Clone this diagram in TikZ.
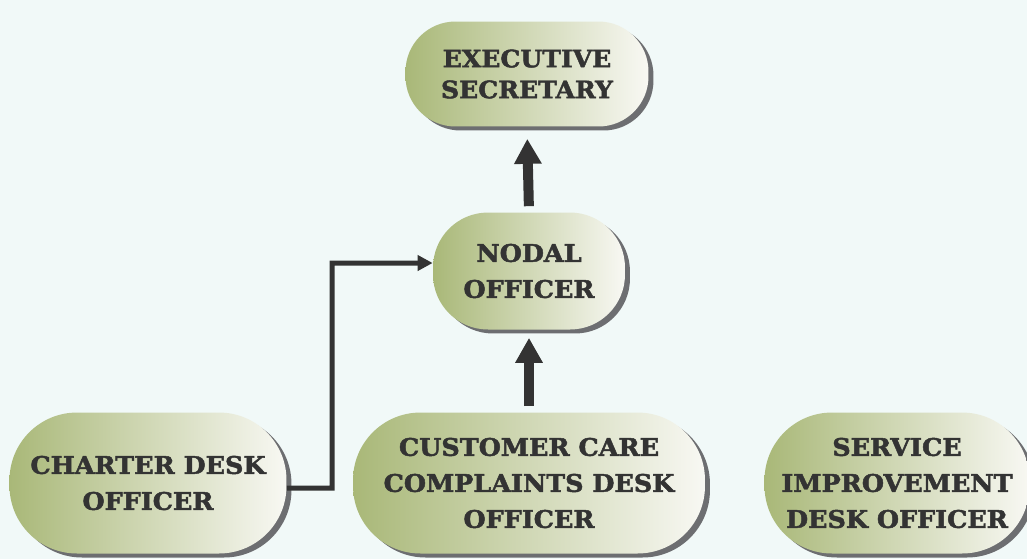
\documentclass[tikz,border=0pt]{standalone}
\usepackage{fontspec}
\usepackage{tikz}
\usetikzlibrary{arrows.meta,shadows}
\newfontfamily\orgfont[FakeStretch=1.05, BoldFeatures={FakeBold=2}]{DejaVu Serif}

\definecolor{bgmint}{HTML}{F1F9F8}
\definecolor{olive}{HTML}{A9B878}
\definecolor{paleend}{HTML}{F8F8F3}
\definecolor{shadowgray}{HTML}{6D6E71}
\definecolor{inkgray}{HTML}{333333}

\tikzset{
  post/.style={rounded corners=1.1cm, left color=olive, right color=paleend,
    draw=none, align=center, text=inkgray, inner sep=0pt,
    font=\orgfont\bfseries\fontsize{13.8}{20.5}\selectfont,
    drop shadow={shadow xshift=0.1cm, shadow yshift=-0.08cm, fill=shadowgray, opacity=1}},
  bigarrow/.style={line width=0.2cm, draw=inkgray,
    -{Triangle[length=0.5cm,width=0.52cm]}},
  elbowarrow/.style={line width=0.1cm, draw=inkgray,
    -{Triangle[length=0.3cm,width=0.3cm]}}
}

\begin{document}
\begin{tikzpicture}[x=0.02cm,y=-0.02cm]
	\useasboundingbox (0,0) rectangle (1027,559);
	\fill[bgmint] (0,0) rectangle (1027,559);
	\clip (0,0) rectangle (1027,559);
	
	%POSTS
	\node[post, minimum width=4.86cm, minimum height=2.1cm, rounded corners=1cm,
	  font=\orgfont\bfseries\fontsize{13.6}{17.6}\selectfont] (exec) at (527,74) {EXECUTIVE\\SECRETARY};
	\node[post, minimum width=3.84cm, minimum height=2.34cm] (nodal) at (529,271) {NODAL\\OFFICER};
	\node[post, minimum width=5.54cm, minimum height=2.82cm, rounded corners=1.35cm] (charter) at (148,483) {CHARTER DESK\\OFFICER};
	\node[post, minimum width=7.04cm, minimum height=2.82cm, rounded corners=1.35cm] (care) at (529,483) {CUSTOMER CARE\\COMPLAINTS DESK\\OFFICER};
	\node[post, minimum width=5.3cm, minimum height=2.82cm, rounded corners=1.35cm] (service) at (897,483) {SERVICE\\IMPROVEMENT\\DESK OFFICER};
	
	%ARROWS
	\draw[bigarrow, shorten <=0.12cm, shorten >=0.24cm] (nodal.north) -- (exec.south);
	\draw[bigarrow, shorten <=0.12cm, shorten >=0.16cm] (care.north) -- (nodal.south);
	\coordinate (bend) at (332,488);
	\draw[elbowarrow] ([yshift=-0.1cm]charter.east) -- (bend) |- ([yshift=0.16cm]nodal.west);
\end{tikzpicture}
\end{document}
